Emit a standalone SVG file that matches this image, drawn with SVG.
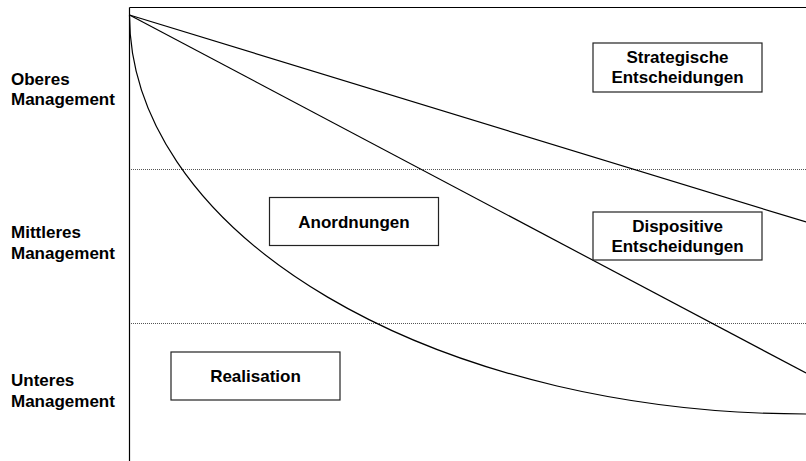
<svg xmlns="http://www.w3.org/2000/svg" width="806" height="461" viewBox="0 0 806 461">
<style>
.lbl{font-family:"Liberation Sans",Arial,sans-serif;font-weight:bold;font-size:17px;fill:#000}
.mid{text-anchor:middle}
.box{fill:#fff;stroke:#222;stroke-width:1.2}
.ln{fill:none;stroke:#000;stroke-width:1.2}
.dot{fill:none;stroke:#555;stroke-width:1;stroke-dasharray:1 1}
</style>
<rect width="806" height="461" fill="#fff"/>
<g id="axes">
<line class="ln" x1="129.5" y1="7.5" x2="129.5" y2="461"/>
<line class="ln" x1="129.5" y1="7.5" x2="806" y2="7.5"/>
<line class="dot" x1="131" y1="169.5" x2="806" y2="169.5"/>
<line class="dot" x1="131" y1="323.5" x2="806" y2="323.5"/>
</g>
<g id="connectors">
<line class="ln" x1="129.5" y1="15" x2="806" y2="222"/>
<line class="ln" x1="129.5" y1="15" x2="806" y2="373"/>
<path class="ln" d="M129.5,15 A676.5,399 0 0 0 806,414"/>
</g>
<g id="level-labels">
<text class="lbl" x="11" y="85">Oberes</text>
<text class="lbl" x="11" y="105">Management</text>
<text class="lbl" x="11" y="238">Mittleres</text>
<text class="lbl" x="11" y="259">Management</text>
<text class="lbl" x="11" y="386">Unteres</text>
<text class="lbl" x="11" y="407">Management</text>
</g>
<g id="strategische">
<rect class="box" x="593" y="43" width="169" height="49"/>
<text class="lbl mid" x="677.5" y="63">Strategische</text>
<text class="lbl mid" x="677.5" y="83">Entscheidungen</text>
</g>
<g id="anordnungen">
<rect class="box" x="269.5" y="197.5" width="169" height="48"/>
<text class="lbl mid" x="354" y="228">Anordnungen</text>
</g>
<g id="dispositive">
<rect class="box" x="593" y="212" width="169" height="48"/>
<text class="lbl mid" x="677.5" y="232">Dispositive</text>
<text class="lbl mid" x="677.5" y="252">Entscheidungen</text>
</g>
<g id="realisation">
<rect class="box" x="171" y="352" width="169" height="48"/>
<text class="lbl mid" x="255.5" y="382">Realisation</text>
</g>
</svg>
